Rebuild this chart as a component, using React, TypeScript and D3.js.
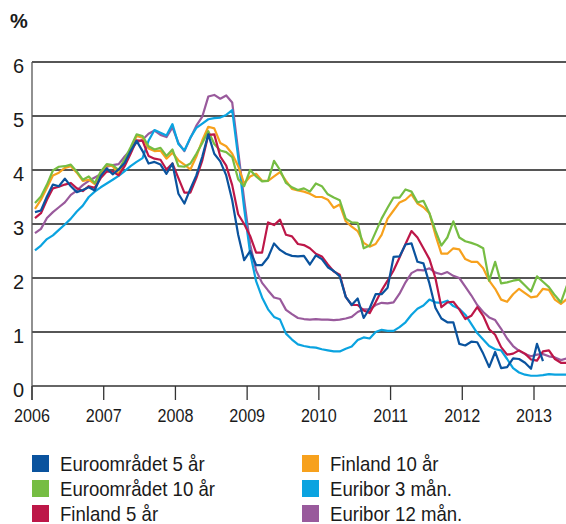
import React from "react";
import * as d3 from "d3";

const years = [2006, 2007, 2008, 2009, 2010, 2011, 2012, 2013];
const yTicks = [0, 1, 2, 3, 4, 5, 6];

// monthly values, first point = Jan 2006
const euro5 = [
  3.22, 3.25, 3.51, 3.73, 3.70, 3.84, 3.70, 3.59, 3.63, 3.68, 3.62, 3.89,
  4.03, 3.92, 4.01, 4.13, 4.35, 4.54, 4.35, 4.12, 4.15, 4.10, 3.93, 4.12,
  3.56, 3.38, 3.65, 3.90, 4.25, 4.66, 4.30, 4.16, 3.90, 3.44, 2.80, 2.33,
  2.50, 2.24, 2.24, 2.38, 2.64, 2.52, 2.45, 2.41, 2.40, 2.41, 2.25, 2.42,
  2.35, 2.20, 2.13, 2.03, 1.65, 1.50, 1.62, 1.26, 1.44, 1.70, 1.70, 1.82,
  2.39, 2.40, 2.62, 2.64, 2.30, 2.27, 1.90, 1.45, 1.25, 1.18, 1.18, 0.78,
  0.75, 0.82, 0.81, 0.60, 0.35, 0.63, 0.33, 0.35, 0.51, 0.50, 0.43, 0.32,
  0.78, 0.46,
];
const euro10 = [
  3.39, 3.51, 3.73, 3.99, 4.06, 4.07, 4.10, 3.97, 3.82, 3.88, 3.76, 3.97,
  4.11, 4.09, 4.00, 4.20, 4.42, 4.66, 4.63, 4.44, 4.38, 4.41, 4.26, 4.38,
  4.07, 4.06, 4.12, 4.30, 4.50, 4.72, 4.48, 4.36, 4.33, 4.24, 3.83, 3.70,
  4.00, 3.88, 3.79, 3.80, 4.17, 4.00, 3.76, 3.68, 3.63, 3.66, 3.60, 3.75,
  3.70, 3.55, 3.49, 3.44, 3.10, 3.03, 3.02, 2.55, 2.60, 2.85, 3.10, 3.30,
  3.49, 3.49, 3.64, 3.60, 3.40, 3.43, 3.20, 2.88, 2.60, 2.75, 3.05, 2.75,
  2.68, 2.65, 2.61, 2.55, 1.95, 2.30, 1.90, 1.92, 1.95, 1.97, 1.86, 1.75,
  2.03, 1.93, 1.83, 1.68, 1.55, 1.86,
];
const fin5 = [
  3.11, 3.20, 3.45, 3.66, 3.69, 3.73, 3.76, 3.66, 3.61, 3.70, 3.67, 3.85,
  3.97, 3.97, 3.90, 4.07, 4.30, 4.55, 4.54, 4.26, 4.21, 4.19, 4.01, 4.12,
  3.85, 3.58, 3.58, 3.85, 4.18, 4.65, 4.66, 4.25, 4.08, 3.72, 3.18, 3.00,
  2.78, 2.47, 2.47, 3.03, 2.98, 3.08, 2.80, 2.77, 2.63, 2.61, 2.55, 2.45,
  2.40, 2.25, 2.12, 2.06, 1.65, 1.50, 1.50, 1.40, 1.35, 1.55, 1.77, 1.95,
  2.14, 2.38, 2.63, 2.87, 2.75, 2.55, 2.35, 2.00, 1.46, 1.55, 1.56, 1.42,
  1.24, 1.30, 1.46, 1.30, 1.05, 0.95, 0.72, 0.58, 0.60, 0.66, 0.60, 0.49,
  0.47, 0.64, 0.66, 0.50, 0.43, 0.43,
];
const fin10 = [
  3.28, 3.45, 3.67, 3.90, 3.95, 4.04, 4.07, 3.95, 3.80, 3.82, 3.74, 3.95,
  4.09, 4.07, 3.93, 4.15, 4.38, 4.63, 4.60, 4.40, 4.35, 4.36, 4.21, 4.32,
  4.18, 4.10, 4.01, 4.25, 4.55, 4.80, 4.77, 4.50, 4.44, 4.30, 4.07, 3.75,
  3.88, 3.93, 3.80, 3.80, 3.88, 3.96, 3.80, 3.65, 3.62, 3.60, 3.56, 3.50,
  3.50, 3.45, 3.30, 3.36, 3.05, 2.95, 2.87, 2.65, 2.58, 2.63, 2.80, 3.10,
  3.25, 3.40, 3.45, 3.55, 3.38, 3.31, 3.20, 2.80, 2.45, 2.45, 2.55, 2.53,
  2.35, 2.30, 2.30, 2.18, 1.95, 1.80, 1.60, 1.56, 1.70, 1.80, 1.72, 1.64,
  1.66, 1.80, 1.78, 1.60, 1.52, 1.61,
];
const euribor3 = [
  2.51, 2.60, 2.72, 2.79, 2.89, 2.99, 3.10, 3.23, 3.34, 3.50, 3.60, 3.68,
  3.75, 3.82, 3.89, 3.98, 4.07, 4.15, 4.22, 4.54, 4.74, 4.69, 4.64, 4.85,
  4.48, 4.36, 4.60, 4.78, 4.86, 4.94, 4.96, 4.97, 5.02, 5.11, 4.24, 3.29,
  2.46, 1.94, 1.64, 1.42, 1.28, 1.23, 0.97, 0.86, 0.77, 0.74, 0.72, 0.71,
  0.68, 0.66, 0.64, 0.64, 0.69, 0.73, 0.85, 0.90, 0.88, 1.00, 1.04, 1.02,
  1.02, 1.09, 1.18, 1.32, 1.43, 1.49, 1.60, 1.55, 1.54, 1.58, 1.48, 1.43,
  1.32, 1.15, 0.98, 0.86, 0.74, 0.68, 0.66, 0.50, 0.33, 0.25, 0.21, 0.19,
  0.19, 0.20, 0.22, 0.21, 0.21, 0.21,
];
const euribor12 = [
  2.83, 2.91, 3.11, 3.22, 3.31, 3.40, 3.54, 3.62, 3.72, 3.80, 3.86, 3.92,
  4.06, 4.09, 4.11, 4.25, 4.37, 4.51, 4.56, 4.67, 4.73, 4.65, 4.61, 4.79,
  4.50, 4.35, 4.59, 4.82, 4.99, 5.36, 5.39, 5.32, 5.38, 5.25, 4.35, 3.45,
  2.62, 2.14, 1.91, 1.77, 1.64, 1.61, 1.41, 1.33, 1.26, 1.24, 1.23, 1.24,
  1.23, 1.23, 1.22, 1.23, 1.25, 1.28, 1.37, 1.42, 1.42, 1.50, 1.54, 1.53,
  1.55, 1.71, 1.92, 2.09, 2.15, 2.14, 2.18, 2.10, 2.07, 2.11, 2.04, 2.00,
  1.84, 1.68, 1.50, 1.37, 1.27, 1.22, 1.06, 0.88, 0.74, 0.65, 0.59, 0.55,
  0.58, 0.59, 0.55, 0.53, 0.48, 0.51,
];

const seriesNames = [
  "Euroområdet 5 år",
  "Euroområdet 10 år",
  "Finland 5 år",
  "Finland 10 år",
  "Euribor 3 mån.",
  "Euribor 12 mån.",
];
const seriesColors = ["#0a539e", "#76bd43", "#bd1748", "#f7a11d", "#0aa3e0", "#995a9c"];
const seriesData = [euro5, euro10, fin5, fin10, euribor3, euribor12];
const drawOrder = [5, 4, 3, 1, 2, 0];

const W = 566;
const H = 524;

export default function App() {
  const x = d3.scaleLinear().domain([2006, 2013]).range([32, 534]);
  const y = d3.scaleLinear().domain([0, 6]).range([386, 62]);
  const line = d3
    .line<number>()
    .x((_, i) => x(2006 + (i + 0.5) / 12))
    .y((d) => y(d));

  return (
    <svg
      width={W}
      height={H}
      style={{ position: "absolute", left: 0, top: 0, background: "#fff" }}
      fontFamily="'Liberation Sans', Arial, Helvetica, sans-serif"
    >
      <text x={10} y={28} fontSize={20} fontWeight="bold" fill="#1a1a1a">
        %
      </text>
      {yTicks.map((t) => (
        <g key={t}>
          {t > 0 && (
            <line x1={32} x2={W} y1={y(t)} y2={y(t)} stroke="#1e1e1e" strokeWidth={1.3} />
          )}
          <text x={24} y={y(t) + 10.5} fontSize={20} textAnchor="end" fill="#1a1a1a">
            {t}
          </text>
        </g>
      ))}
      {drawOrder.map((k) => (
        <path
          key={k}
          d={line(seriesData[k]) || ""}
          fill="none"
          stroke={seriesColors[k]}
          strokeWidth={2.2}
          strokeLinejoin="round"
        />
      ))}
      <line x1={32} x2={W} y1={386} y2={386} stroke="#333" strokeWidth={1.3} />
      <line x1={32} x2={32} y1={62} y2={400} stroke="#555" strokeWidth={1.3} />
      {years.map((yr) => (
        <g key={yr}>
          <line x1={x(yr)} x2={x(yr)} y1={386} y2={400} stroke="#333" strokeWidth={1.3} />
          <text
            transform={`translate(${x(yr)},422) scale(0.85,1)`}
            fontSize={19}
            textAnchor="middle"
            fill="#1a1a1a"
          >
            {yr}
          </text>
        </g>
      ))}
      {seriesNames.map((name, k) => {
        const col = Math.floor(k / 3);
        const row = k % 3;
        const sx = col === 0 ? 32 : 302;
        const sy = 455 + row * 25;
        return (
          <g key={name}>
            <rect x={sx} y={sy} width={17} height={17} fill={seriesColors[k]} />
            <text
              transform={`translate(${sx + 28},${sy + 16}) scale(0.93,1)`}
              fontSize={20}
              fill="#1a1a1a"
            >
              {name}
            </text>
          </g>
        );
      })}
    </svg>
  );
}
